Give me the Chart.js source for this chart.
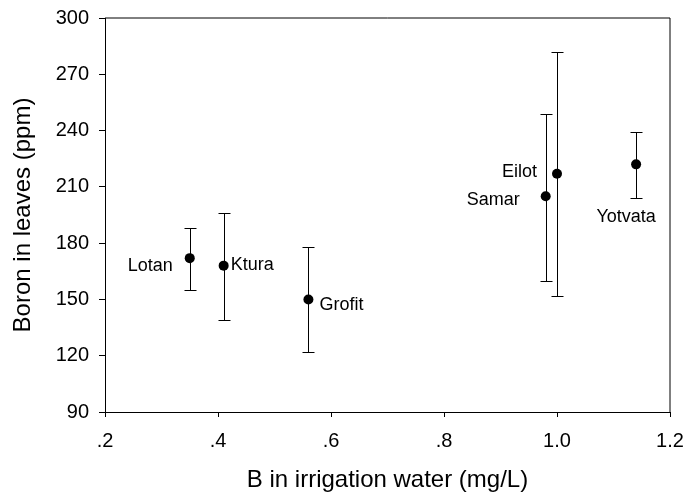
<!DOCTYPE html>
<html>
<head>
<meta charset="utf-8">
<script src="https://cdn.jsdelivr.net/npm/chart.js@4.4.0/dist/chart.umd.min.js"></script>
<style>
  html, body { margin: 0; padding: 0; background: #fff; }
  #wrap { width: 684px; height: 497px; }
</style>
</head>
<body>
<div id="wrap"><canvas id="cnv"></canvas></div>
<script>
(function(){

    // site names and readings taken off the figure
    var sites = ["Lotan", "Ktura", "Grofit", "Samar", "Eilot", "Yotvata"];
    var waterB = [0.35, 0.41, 0.56, 0.98, 1.00, 1.14];     // mg/L
    var leafB = [172, 168, 150, 205, 217, 222];             // ppm, mean
    var leafHi = [188, 196, 178, 249, 282, 239];            // upper end of bar
    var leafLo = [155, 139, 122, 160, 152, 204];            // lower end of bar

    var xTicks = [0.2, 0.4, 0.6, 0.8, 1.0, 1.2];
    var yTicks = [90, 120, 150, 180, 210, 240, 270, 300];

    // where each site label sits relative to its dot
    var labelPos = {
        Lotan:   { dx: -17, dy: 8,  align: "right" },
        Ktura:   { dx: 7,   dy: -1, align: "left" },
        Grofit:  { dx: 11,  dy: 6,  align: "left" },
        Samar:   { dx: -26, dy: 4,  align: "right" },
        Eilot:   { dx: -20, dy: -2, align: "right" },
        Yotvata: { dx: -10, dy: 53, align: "center" }
    };

    var points = waterB.map(function(x, i){ return { x: x, y: leafB[i] }; });

    var errorBars = {
        id: "errorBars",
        beforeDatasetsDraw: function(chart){
            var ctx = chart.ctx, xs = chart.scales.x, ys = chart.scales.y;
            ctx.save();
            ctx.strokeStyle = "#000";
            ctx.lineWidth = 1;
            for (var i = 0; i < waterB.length; i++) {
                var px = Math.round(xs.getPixelForValue(waterB[i])) + 0.5;
                var top = Math.round(ys.getPixelForValue(leafHi[i])) + 0.5;
                var bot = Math.round(ys.getPixelForValue(leafLo[i])) + 0.5;
                ctx.beginPath();
                ctx.moveTo(px, top); ctx.lineTo(px, bot);
                ctx.moveTo(px - 6, top); ctx.lineTo(px + 6, top);
                ctx.moveTo(px - 6, bot); ctx.lineTo(px + 6, bot);
                ctx.stroke();
            }
            ctx.restore();
        },
        afterDatasetsDraw: function(chart){
            var ctx = chart.ctx, xs = chart.scales.x, ys = chart.scales.y;
            ctx.save();
            ctx.fillStyle = "#000";
            ctx.font = "18px 'Liberation Sans', Arial, sans-serif";
            ctx.textBaseline = "middle";
            sites.forEach(function(name, i){
                var p = labelPos[name];
                ctx.textAlign = p.align;
                ctx.fillText(name, xs.getPixelForValue(waterB[i]) + p.dx, ys.getPixelForValue(leafB[i]) + p.dy);
            });
            // top and right edges of the frame
            var a = chart.chartArea;
            ctx.strokeStyle = "#000";
            ctx.lineWidth = 1;
            ctx.beginPath();
            ctx.moveTo(a.left, a.top); ctx.lineTo(a.right, a.top); ctx.lineTo(a.right, a.bottom);
            ctx.stroke();
            ctx.restore();
        }
    };

    Chart.defaults.color = "#000";
    Chart.defaults.font.family = "'Liberation Sans', Arial, sans-serif";

    new Chart(document.getElementById("cnv"), {
        type: "scatter",
        data: {
            datasets: [{
                data: points,
                pointRadius: 5,
                pointHoverRadius: 5,
                backgroundColor: "#000",
                borderWidth: 0
            }]
        },
        options: {
            responsive: true,
            maintainAspectRatio: false,
            animation: false,
            layout: { padding: { top: 18, right: 14, left: 0, bottom: 0 } },
            plugins: { legend: { display: false }, tooltip: { enabled: false } },
            scales: {
                x: {
                    type: "linear",
                    min: xTicks[0],
                    max: xTicks[xTicks.length - 1],
                    afterFit: function(s){ s.height = 85; s.paddingLeft = 0; s.paddingRight = 0; },
                    afterBuildTicks: function(s){ s.ticks = xTicks.map(function(v){ return { value: v }; }); },
                    border: { color: "#000", width: 1 },
                    grid: { drawOnChartArea: false, tickLength: 5, color: "#000" },
                    ticks: {
                        padding: 12,
                        font: { size: 20 },
                        callback: function(v){ return v < 1 ? v.toFixed(1).replace(/^0/, "") : v.toFixed(1); }
                    },
                    title: {
                        display: true,
                        text: "B in irrigation water (mg/L)",
                        font: { size: 24 },
                        padding: { top: 0, bottom: 2 }
                    }
                },
                y: {
                    type: "linear",
                    min: yTicks[0],
                    max: yTicks[yTicks.length - 1],
                    afterFit: function(s){ s.width = 105; s.paddingTop = 0; s.paddingBottom = 0; },
                    afterBuildTicks: function(s){ s.ticks = yTicks.map(function(v){ return { value: v }; }); },
                    border: { color: "#000", width: 1 },
                    grid: { drawOnChartArea: false, tickLength: 6, color: "#000" },
                    ticks: { padding: 10, font: { size: 20 } },
                    title: {
                        display: true,
                        text: "Boron in leaves (ppm)",
                        font: { size: 24 },
                        padding: { top: 9, bottom: 0 }
                    }
                }
            }
        },
        plugins: [errorBars]
    });

})();
</script>
</body>
</html>
